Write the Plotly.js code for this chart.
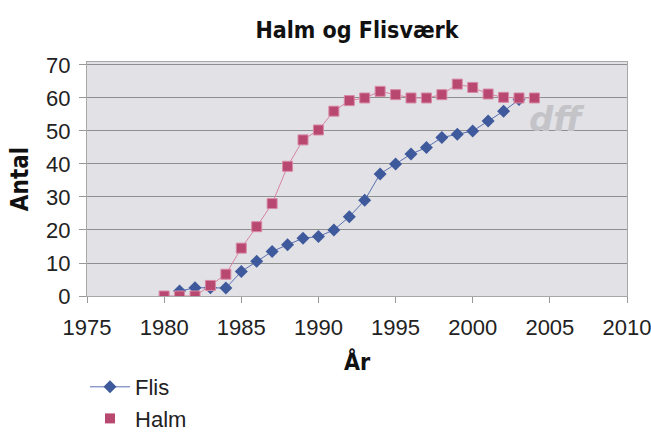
<!DOCTYPE html>
<html><head><meta charset="utf-8">
<script src="https://cdn.plot.ly/plotly-3.0.1.min.js"></script>
<style>body{margin:0;background:#fff}#c{width:651px;height:433px}</style>
</head><body><div id="c"></div>
<script>
var flisYears = [1981,1982,1983,1984,1985,1986,1987,1988,1989,1990,1991,1992,1993,1994,1995,1996,1997,1998,1999,2000,2001,2002,2003];
var flisValues = [1.5,2.5,2.5,2.4,7.4,10.5,13.5,15.5,17.5,18,20,24,29,37,40,43,45,48,49,50,53,56,59.5];
var halmYears = [1980,1981,1982,1983,1984,1985,1986,1987,1988,1989,1990,1991,1992,1993,1994,1995,1996,1997,1998,1999,2000,2001,2002,2003,2004];
var halmValues = [0,0,0,3.2,6.6,14.5,21,28,39.3,47.3,50.3,56,59.2,60,62,61,60,60,61,64.2,63.2,61.2,60.2,60,60];
var xTicks = [1975,1980,1985,1990,1995,2000,2005,2010];
var yTicks = [0,10,20,30,40,50,60,70];

var tickFont = {family:'Liberation Sans Narrow, Liberation Sans', size:22, color:'#222'};
var traces = [
  {x: flisYears, y: flisValues, name:'Flis', mode:'lines+markers', type:'scatter',
   line:{color:'#5a6fb0', width:1}, marker:{symbol:'diamond', size:10, color:'#3f5a9c'}},
  {x: halmYears, y: halmValues, name:'Halm', mode:'lines+markers', type:'scatter', showlegend:false,
   line:{color:'#d8849f', width:1}, marker:{symbol:'square', size:10, color:'#b84870', line:{color:'#d88aa4', width:1}}},
  {x: [null], y: [null], name:'Halm', mode:'markers', type:'scatter',
   marker:{symbol:'square', size:10, color:'#b84870'}}
];
var layout = {
  width:651, height:433,
  margin:{l:87, r:24, t:62, b:137, autoexpand:false},
  paper_bgcolor:'#ffffff', plot_bgcolor:'#e1e1e6',
  title:{text:'<b>Halm og Flisværk</b>', font:{family:'DejaVu Sans Condensed', size:23, color:'#111'}, x:0.5, xanchor:'center', xref:'paper', y:0.93, yanchor:'middle'},
  xaxis:{range:[1975,2010], tickvals:xTicks, ticktext:xTicks.map(String), showgrid:false, zeroline:false, automargin:false,
    showline:true, mirror:true, linecolor:'#a8a8a8', ticks:'outside', ticklen:6, tickcolor:'#999', tickfont:tickFont,
    ticklabeloverflow:'allow', ticklabelstandoff:6,
    title:{text:'<b>År</b>', font:{family:'DejaVu Sans Condensed', size:23, color:'#111'}, standoff:14}},
  yaxis:{range:[0,70.9], tickvals:yTicks, ticktext:yTicks.map(String), showgrid:true, gridcolor:'#8e8e8e', gridwidth:1, zeroline:false, automargin:false,
    showline:true, mirror:true, linecolor:'#a8a8a8', ticks:'outside', ticklen:7, tickcolor:'#999', tickfont:tickFont,
    ticklabelstandoff:4,
    title:{text:'<b>Antal</b>', font:{family:'DejaVu Sans Condensed', size:24, color:'#111'}, standoff:10}},
  legend:{x:(85-87)/541, xanchor:'left', y:(296-366)/234, yanchor:'top',
    font:{family:'Liberation Sans Narrow, Liberation Sans', size:22, color:'#222'},
    bgcolor:'rgba(0,0,0,0)', itemwidth:40},
  annotations:[{text:'<i><b>dff</b></i>', xref:'paper', yref:'paper', x:(588-87)/541, y:(296-97)/234, showarrow:false,
    font:{family:'DejaVu Sans', size:34, color:'#c4c4c8'}}],
  showlegend:true
};
Plotly.newPlot('c', traces, layout, {displayModeBar:false, staticPlot:true});
</script></body></html>
